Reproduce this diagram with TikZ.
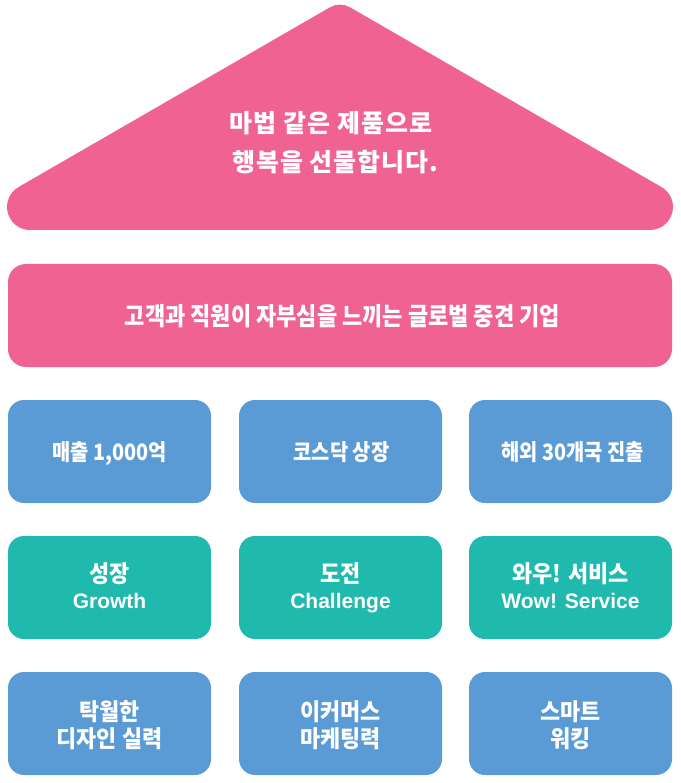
\documentclass[tikz,border=0pt]{standalone}
\usepackage{fontspec}
\newfontfamily\krroof{Noto Sans CJK KR}[LetterSpace=4]
\newfontfamily\kr{Noto Sans CJK KR}[FakeStretch=0.88]
\newfontfamily\krw{Noto Sans CJK KR}[FakeStretch=0.93]
\newfontfamily\lat{Liberation Sans}
\definecolor{roofpink}{HTML}{EF6292}
\definecolor{boxblue}{HTML}{5B9BD5}
\definecolor{boxteal}{HTML}{20B9AE}
\tikzset{
  pillar/.style={rounded corners=16pt, minimum width=203pt, minimum height=103pt,
    inner sep=0pt},
  bluebox/.style={pillar, fill=boxblue},
  tealbox/.style={pillar, fill=boxteal},
  lbl/.style={anchor=base, text=white, inner sep=0pt},
  krtext/.style={lbl, font=\krw\bfseries\fontsize{23.5}{26}\selectfont},
  krsmall/.style={lbl, font=\kr\bfseries\fontsize{22.5}{26}\selectfont},
  lattext/.style={lbl, font=\lat\bfseries\fontsize{21}{26}\selectfont},
  rooftext/.style={lbl, font=\krroof\bfseries\fontsize{25}{30}\selectfont}
}
\begin{document}
\begin{tikzpicture}[x=1pt,y=-1pt]
\useasboundingbox (0,0) rectangle (680,783);
% roof
\fill[roofpink] (30,230) -- (650,230) arc[start angle=90, end angle=-60, radius=23]
  -- (350,7.3) arc[start angle=-60, end angle=-120, radius=20]
  -- (18.5,187.08) arc[start angle=240, end angle=90, radius=23] -- cycle;
\node[rooftext] (roof1) at (331,133) {마법 같은 제품으로};
\node[rooftext] (roof2) at (335.5,171.5) {행복을 선물합니다.};
% band
\node[fill=roofpink, rounded corners=18pt, minimum width=664pt, minimum height=103pt, inner sep=0pt] (vision) at (340,315.5) {};
\node[lbl, font=\kr\bfseries\fontsize{25}{26}\selectfont] (visiontext) at (342.5,325.5)
  {고객과 직원이 자부심을 느끼는 글로벌 중견 기업};
% row 3
\node[bluebox] (g1) at (109.5,451.5) {};
\node[bluebox] (g2) at (340.5,451.5) {};
\node[bluebox] (g3) at (570.5,451.5) {};
\node[krsmall] (g1t) at (109.5,460.4) {매출 1,000억};
\node[krsmall] (g2t) at (341.5,460.4) {코스닥 상장};
\node[krsmall] (g3t) at (572.5,460.4) {해외 30개국 진출};
% row 4
\node[tealbox] (v1) at (109.5,587.5) {};
\node[tealbox] (v2) at (340.5,587.5) {};
\node[tealbox] (v3) at (570.5,587.5) {};
\node[krtext] (v1a) at (109.5,582.5) {성장};
\node[lattext] (v1b) at (109.5,608.5) {Growth};
\node[krtext] (v2a) at (340.5,582.5) {도전};
\node[lattext] (v2b) at (340.5,608.5) {Challenge};
\node[krtext] (v3a) at (570.5,582.5) {와우! 서비스};
\node[lattext] (v3b) at (570.5,608.5) {Wow! Service};
% row 5
\node[bluebox] (c1) at (109.5,723.5) {};
\node[bluebox] (c2) at (340.5,723.5) {};
\node[bluebox] (c3) at (570.5,723.5) {};
\node[krtext] (c1a) at (109.5,720.8) {탁월한};
\node[krtext] (c1b) at (109.5,747) {디자인 실력};
\node[krtext] (c2a) at (340.5,720.8) {이커머스};
\node[krtext] (c2b) at (340.5,747) {마케팅력};
\node[krtext] (c3a) at (570.5,720.8) {스마트};
\node[krtext] (c3b) at (570.5,747) {워킹};
\end{tikzpicture}
\end{document}
